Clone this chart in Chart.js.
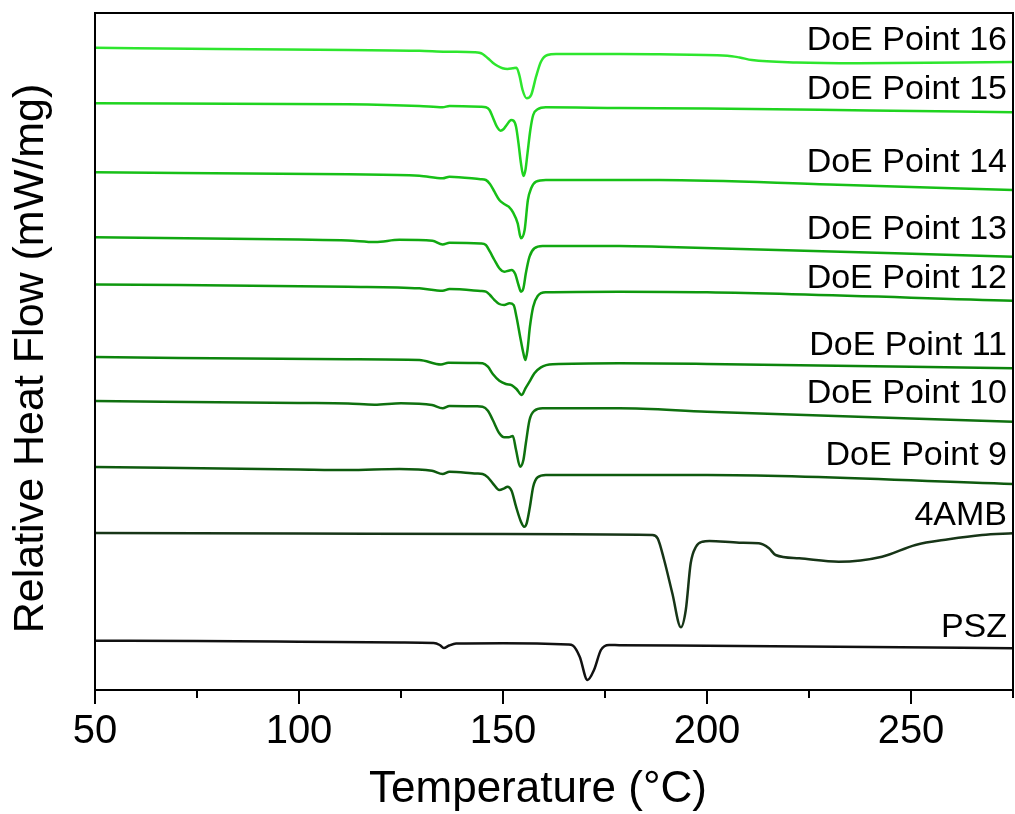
<!DOCTYPE html>
<html>
<head>
<meta charset="utf-8">
<script src="https://cdn.jsdelivr.net/npm/chart.js@4.4.1/dist/chart.umd.min.js"></script>
<style>
html,body{margin:0;padding:0;background:#fff;}
#wrap{width:1015px;height:814px;position:relative;}
</style>
</head>
<body>
<div id="wrap"><canvas id="c" width="1015" height="814"></canvas></div>
<script>
// ---- data (temperature °C, relative heat flow, arbitrary offset units) ----
const seriesNames = ['DoE Point 16','DoE Point 15','DoE Point 14','DoE Point 13','DoE Point 12','DoE Point 11','DoE Point 10','DoE Point 9','4AMB','PSZ'];
const xTitle = 'Temperature (°C)';
const yTitle = 'Relative Heat Flow (mW/mg)';

const doe16 = [[50,642.3],[80,641],[112,640],[129.5,639.3],[136,638.3],[143,637.8],[144.2,637.3],[145,636],[146.3,631.7],[147.5,627.3],[148.7,624],[149.9,621.7],[151.1,621],[152.4,621.7],[153.3,622.3],[154,615],[154.8,600],[155.8,591.7],[156.9,595],[158.1,613.3],[159.3,628.3],[160.9,635],[163,636],[178.5,636],[188.3,635.7],[205,634.3],[208,632.5],[211,630],[222,627.5],[237,626.7],[275,628]];
const doe15 = [[50,586.7],[112,585.7],[129.5,584],[135.2,582.7],[136.9,584],[144.5,583.2],[145.8,582.7],[146.7,580],[147.5,572.7],[148.5,563.3],[149.4,559.3],[150.1,560.7],[150.9,565],[152,570],[152.6,569.3],[153.2,563.3],[153.8,546.7],[154.4,526.7],[155,514],[155.5,520],[156,536.7],[156.7,560],[157.4,575],[158.5,580.7],[160.5,582.7],[178.5,582],[200,581.5],[240,579.5],[275,577.7]];
const doe14 = [[50,517.7],[112,515.7],[129.5,514.3],[135.2,511.7],[136.9,513.3],[144.5,510.8],[145.8,510],[146.8,506],[147.9,498.3],[149.1,490],[150.3,486],[151.4,483.3],[152.5,477.3],[153.6,466.7],[154.4,451.7],[155.3,460],[156.1,490],[156.9,501.7],[158.1,508.3],[160.5,510],[188.3,510],[230,505.5],[275,500]];
const doe13 = [[50,452.7],[100,450.5],[112,449.6],[118.7,448],[124.6,450.2],[132.7,449.3],[135.2,445.5],[136.9,447.3],[144.5,446.5],[145.8,445],[146.8,438.3],[147.9,430],[149.1,421.7],[150.3,418.3],[151.3,419.3],[152.1,420],[153,416],[153.8,405],[154.4,398.3],[155,401.7],[155.6,416.7],[156.5,433.3],[157.7,441.7],[159.7,444],[178.5,444],[188.3,443.3],[275,433.3]];
const doe12 = [[50,405.5],[112,403.3],[129.5,401.7],[135.2,399.3],[136.9,401],[144.5,399],[145.8,398.3],[146.8,395],[147.9,390],[149.1,386],[150.3,385],[151.6,386.7],[152.6,385],[153.3,373.3],[154.2,353.3],[155,336.7],[155.5,330],[156,340],[156.6,363.3],[157.4,383.3],[158.5,394],[160.5,397.7],[178.5,398.3],[200,397.7],[275,389.3]];
const doe11 = [[50,333],[112,330.7],[129.5,330],[134.8,325.5],[136.6,327.3],[143.5,327],[145,326.7],[146.3,323.3],[147.5,316],[149.1,309.3],[150.7,306],[152.2,304.7],[153.3,301],[154.6,295],[155.5,301.7],[156.5,308.3],[157.7,316.7],[159.3,322.7],[162.2,325.7],[178.5,326.7],[200,326],[275,321.7]];
const doe10 = [[50,289],[100,287],[112,286.5],[118.5,285.3],[125,286.7],[132.6,285],[135.2,281.7],[136.9,284],[143.5,283.7],[145,283.3],[146.3,279.3],[147.5,270],[149.1,256.7],[150.3,252.7],[151.4,252.7],[152.4,254],[153.2,240],[154.2,223.3],[155,230],[155.6,246.7],[156.5,270],[157.7,279.3],[159.7,281.7],[178.5,281.7],[200,278.3],[275,268.3]];
const doe9  = [[50,223],[100,220.5],[112,220],[124.6,221],[132.6,219.3],[135.2,216],[136.9,218.3],[143.5,216.5],[145,216],[146.3,212.7],[147.5,206.7],[149.1,200],[150.3,201.7],[151.1,203.3],[152.1,199.3],[153.2,183.3],[154.4,168.3],[155.2,163.3],[155.8,166.7],[156.6,183.3],[157.4,203.3],[158.5,212.7],[160.5,215],[178.5,215],[200,215],[275,206]];
const amb4  = [[50,157],[100,156.5],[150,156],[186.6,155],[187.9,151.7],[189.5,130],[191.5,96.7],[193.6,62.7],[194.8,80],[196,126.7],[197.3,143.3],[198.9,148.3],[200.6,149],[207.9,147.3],[212.7,146.7],[215.2,141.7],[216.8,135],[222.6,131.7],[232.3,128.3],[242.9,133.3],[251.1,145],[259.2,150.7],[267.4,155],[275,156.7]];
const psz   = [[50,49.3],[75,49],[100,48.3],[125,47.5],[133,47],[134.5,45],[135.5,42],[136.8,44.5],[138.5,46.5],[150,46.8],[166,45.5],[167.1,44.5],[168.8,33.3],[170.7,10],[172.3,20],[174,40],[176,45],[178.5,44.8],[200,44.3],[240,43],[275,41.7]];

const allSeries = [doe16,doe15,doe14,doe13,doe12,doe11,doe10,doe9,amb4,psz];
const xMajorTicks = [50,100,150,200,250];
const xMinorTicks = [75,125,175,225,275];

// ---- styles / positions ----
const lineColors = ['#2ee62e','#1fd41f','#17c017','#11a811','#0e980e','#0c840c','#0f700f','#0e5a0e','#173517','#111111'];
const labelAnchorY = [649,600,527,460,411,344.5,296,234,174,62.5]; // in y-axis units
const FONT = '"Liberation Sans", Arial, Helvetica, sans-serif';

const datasets = allSeries.map((s,i)=>({
  label: seriesNames[i],
  data: s.map(p=>({x:p[0], y:p[1]})),
  borderColor: lineColors[i],
  borderWidth: 2.5,
  pointRadius: 0,
  fill: false,
  cubicInterpolationMode: 'monotone'
}));

const framePlugin = {
  id: 'frame',
  afterDraw(chart){
    const {ctx, chartArea:a, scales:{x}} = chart;
    ctx.save();
    ctx.strokeStyle = '#000';
    ctx.lineWidth = 2;
    ctx.strokeRect(a.left, a.top, a.right-a.left, a.bottom-a.top);
    ctx.beginPath();
    xMajorTicks.forEach(v=>{const px=x.getPixelForValue(v); ctx.moveTo(px,a.bottom); ctx.lineTo(px,a.bottom+14);});
    xMinorTicks.forEach(v=>{const px=x.getPixelForValue(v); ctx.moveTo(px,a.bottom); ctx.lineTo(px,a.bottom+8);});
    ctx.stroke();
    // axis titles
    ctx.fillStyle = '#000';
    ctx.textAlign = 'center';
    ctx.textBaseline = 'middle';
    ctx.font = '44px ' + FONT;
    ctx.fillText(xTitle, (a.left + a.right)/2 - 16, a.bottom + 100);
    ctx.translate(31, (a.top + a.bottom)/2 + 7);
    ctx.rotate(-Math.PI/2);
    ctx.font = '43px ' + FONT;
    ctx.fillText(yTitle, 0, 0);
    ctx.restore();
  }
};

const labelPlugin = {
  id: 'seriesLabels',
  afterDatasetsDraw(chart){
    const {ctx, chartArea:a, scales:{y}} = chart;
    ctx.save();
    ctx.font = '34px ' + FONT;
    ctx.fillStyle = '#000';
    ctx.textAlign = 'right';
    ctx.textBaseline = 'middle';
    seriesNames.forEach((n,i)=>{
      ctx.fillText(n, a.right - 6, y.getPixelForValue(labelAnchorY[i]));
    });
    ctx.restore();
  }
};

new Chart(document.getElementById('c'), {
  type: 'line',
  data: { datasets },
  options: {
    responsive: false,
    animation: false,
    events: [],
    layout: { padding: { top: 13, right: 2, left: 0, bottom: 0 } },
    plugins: { legend: { display: false }, tooltip: { enabled: false } },
    scales: {
      x: {
        type: 'linear', min: 50, max: 275, position: 'bottom',
        grid: { display: false, drawTicks: false },
        border: { display: false },
        afterBuildTicks: s => { s.ticks = xMajorTicks.map(v=>({value:v})); },
        afterFit: s => { s.height = 124; },
        ticks: { color: '#000', font: { size: 40, family: FONT }, padding: 18, maxRotation: 0, autoSkip: false },
        title: { display: false }
      },
      y: {
        type: 'linear', min: 0, max: 677,
        grid: { display: false, drawTicks: false },
        border: { display: false },
        ticks: { display: false },
        afterFit: s => { s.width = 95; },
        title: { display: false }
      }
    }
  },
  plugins: [framePlugin, labelPlugin]
});
</script>
</body>
</html>
